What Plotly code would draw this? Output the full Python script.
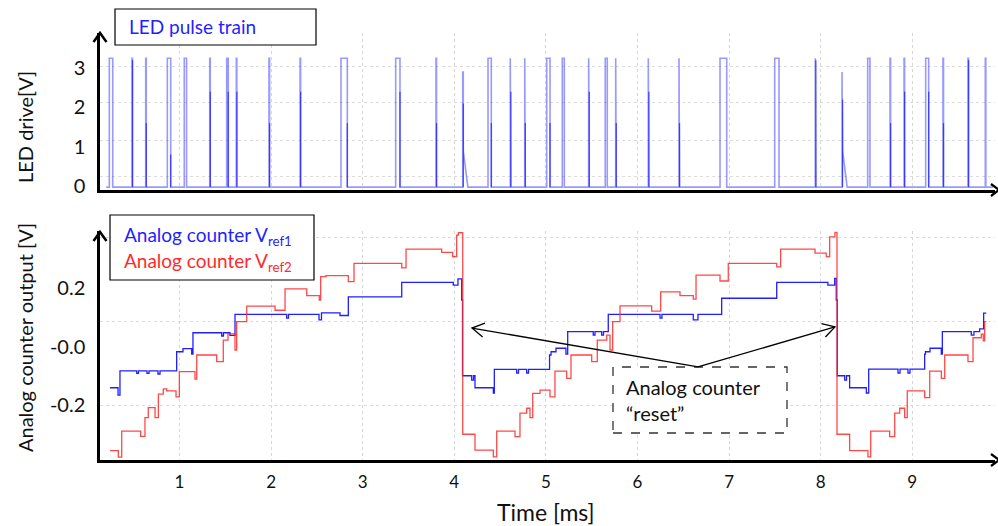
import plotly.graph_objects as go

# ---------------- LED drive pulse train (time in ms, drive in V) ----------------
led_pulse_start = [0.234, 0.481, 0.631, 0.867, 1.052, 1.330, 1.515, 1.620, 1.977, 2.316,
                   2.763, 3.360, 3.800, 4.092, 4.368, 4.611, 4.769, 5.009, 5.179, 5.467,
                   5.648, 5.762, 6.118, 6.453, 6.901, 7.498, 7.941, 8.233, 8.513, 8.757,
                   8.910, 9.146, 9.335, 9.608, 9.797]
led_pulse_width = [0.037, 0.006, 0.006, 0.037, 0.025, 0.006, 0.017, 0.006, 0.006, 0.006,
                   0.069, 0.047, 0.006, 0.006, 0.036, 0.006, 0.006, 0.036, 0.022, 0.006,
                   0.022, 0.006, 0.006, 0.006, 0.073, 0.047, 0.006, 0.006, 0.025, 0.006,
                   0.006, 0.033, 0.006, 0.006, 0.006]
led_pulse_peak = [3.25, 3.25, 3.25, 3.25, 3.25, 3.25, 3.25, 3.25, 3.25, 3.25,
                  3.25, 3.25, 3.25, 2.9, 3.25, 3.25, 3.25, 3.25, 3.25, 3.25,
                  3.25, 3.25, 3.25, 3.25, 3.25, 3.25, 3.25, 2.9, 3.25, 3.25,
                  3.25, 3.25, 3.25, 3.25, 3.25]
# level of the sampled point on each falling edge (0 = clean edge)
led_edge_level = [0.0, 3.2, 1.6, 0.8, 0.0, 2.4, 2.4, 2.4, 1.6, 2.4,
                  1.6, 2.4, 1.6, 2.1, 1.6, 2.4, 1.6, 1.6, 0.0, 2.4,
                  0.0, 1.6, 2.4, 1.6, 0.0, 0.0, 3.2, 2.2, 0.0, 1.6,
                  2.4, 2.4, 1.6, 3.2, 0.0]
# slow decay left after the short over-driven spikes
led_tail_level = [0, 0, 0, 0, 0, 0, 0, 0, 0, 0,
                  0, 0, 0, 0.9, 0, 0, 0, 0, 0, 0,
                  0, 0, 0, 0, 0, 0, 0, 0.9, 0, 0,
                  0, 0, 0, 0, 0]
led_tail_time = 0.05
led_low = -0.03
led_span = [0.20, 9.88]

# ---------------- analog counter outputs (time in ms, output in V) ----------------
vref1_t = [0.241, 0.329, 0.350, 0.533, 0.552, 0.645, 0.667, 0.765, 0.787, 0.969,
           1.038, 1.133, 1.147, 1.461, 1.480, 1.551, 1.606, 2.170, 2.190, 2.523,
           2.550, 2.752, 2.843, 3.426, 3.989, 4.040, 4.081, 4.090, 4.190, 4.210,
           4.226, 4.426, 4.437, 4.681, 4.701, 4.790, 4.810, 5.040, 5.056, 5.110,
           5.219, 5.238, 5.517, 5.536, 5.609, 5.629, 5.681, 6.246, 6.267, 6.609,
           6.660, 6.919, 7.520, 8.079, 8.153, 8.170, 8.181, 8.262, 8.282, 8.316,
           8.498, 8.524, 8.844, 8.866, 8.953, 8.975, 9.135, 9.144, 9.193, 9.317,
           9.328, 9.644, 9.673, 9.735, 9.779, 9.808]
vref1_v = [-0.141, -0.166, -0.083, -0.092, -0.083, -0.092, -0.083, -0.094, -0.083, -0.018,
           -0.007, -0.026, 0.047, 0.036, 0.047, 0.038, 0.110, 0.097, 0.110, 0.091,
           0.115, 0.106, 0.170, 0.219, 0.210, 0.231, 0.159, -0.100, -0.115, -0.100,
           -0.141, -0.159, -0.078, -0.091, -0.078, -0.091, -0.078, -0.029, -0.018, -0.006,
           -0.026, 0.051, 0.039, 0.051, 0.039, 0.051, 0.110, 0.097, 0.110, 0.091,
           0.110, 0.165, 0.219, 0.210, 0.233, 0.159, -0.100, -0.115, -0.100, -0.141,
           -0.159, -0.077, -0.091, -0.077, -0.091, -0.077, -0.026, -0.018, -0.006, -0.026,
           0.051, 0.039, 0.051, 0.060, 0.114, 0.114]

vref2_t = [0.241, 0.332, 0.369, 0.576, 0.623, 0.659, 0.733, 0.769, 0.823, 0.860,
           0.962, 0.998, 1.169, 1.188, 1.406, 1.478, 1.529, 1.606, 1.624, 1.734,
           2.043, 2.152, 2.389, 2.526, 2.541, 2.599, 2.843, 2.905, 3.426, 3.473,
           3.862, 3.982, 4.026, 4.044, 4.092, 4.226, 4.426, 4.463, 4.663, 4.717,
           4.790, 4.826, 4.856, 4.936, 5.045, 5.099, 5.227, 5.274, 5.500, 5.561,
           5.664, 5.700, 5.729, 5.809, 6.155, 6.253, 6.464, 6.609, 6.639, 6.901,
           6.991, 7.520, 7.563, 7.938, 8.061, 8.098, 8.156, 8.178, 8.316, 8.516,
           8.546, 8.753, 8.808, 8.863, 8.917, 8.945, 9.135, 9.190, 9.317, 9.354,
           9.608, 9.663, 9.753, 9.775, 9.790, 9.808]
vref2_v = [-0.356, -0.378, -0.289, -0.307, -0.243, -0.209, -0.243, -0.163, -0.145, -0.152,
           -0.172, -0.086, -0.111, -0.029, -0.052, 0.022, 0.043, -0.012, 0.085, 0.138,
           0.124, 0.197, 0.174, 0.159, 0.239, 0.242, 0.222, 0.284, 0.269, 0.333,
           0.322, 0.307, 0.381, 0.389, -0.300, -0.354, -0.377, -0.289, -0.308, -0.228,
           -0.211, -0.243, -0.160, -0.149, -0.172, -0.084, -0.109, -0.029, -0.052, 0.022,
           0.039, -0.012, 0.085, 0.139, 0.121, 0.187, 0.174, 0.162, 0.244, 0.224,
           0.284, 0.272, 0.333, 0.319, 0.307, 0.375, 0.390, -0.300, -0.356, -0.377,
           -0.289, -0.308, -0.228, -0.211, -0.243, -0.152, -0.175, -0.084, -0.109, -0.029,
           -0.052, 0.030, 0.042, 0.019, 0.085, 0.085]

# callout pointing at the two counter resets
reset_tip_t = [4.193, 8.156]
reset_tip_v = [0.063, 0.067]
callout_t, callout_v = 6.660, -0.070

x_ticks = [1, 2, 3, 4, 5, 6, 7, 8, 9]
led_ticks = [0, 1, 2, 3]
out_ticks = [-0.2, 0.0, 0.2]
out_ticktext = ["-0.2", "-0.0", "0.2"]
# the oscilloscope's own graticule lines
led_scope_grid = [0.229, 1.170, 2.112, 3.028]
out_scope_grid = [-0.200, 0.084, 0.371]

# ---------------- layout frame ----------------
W, H = 998, 526
ML, MR, MT, MB = 100, 3, 33, 66
PW, PH = W - ML - MR, H - MT - MB
t_range = [0.132, 9.903]
led_range = [-0.102, 3.893]
out_range = [-0.388, 0.3949]
led_dom = [(H - MB - 190) / PH, 1.0]
out_dom = [0.0, (H - MB - 231) / PH]

FONT = "Lato, 'Open Sans', sans-serif"
BLUE, RED = "#1f1fff", "#ff2a2a"


def px_x(t):
    return ML + (t - t_range[0]) / (t_range[1] - t_range[0]) * PW


def px_y_out(v):
    top, bot = H - MB - out_dom[1] * PH, H - MB
    return bot - (v - out_range[0]) / (out_range[1] - out_range[0]) * (bot - top)


def paper(px, py):
    return (px - ML) / PW, (H - MB - py) / PH


def chevron(tip, back, size, spread):
    (tx, ty), (bx, by) = tip, back
    dx, dy = tx - bx, ty - by
    n = (dx * dx + dy * dy) ** 0.5
    ux, uy = dx / n, dy / n
    px_, py_ = -uy, ux
    a = (tx - ux * size + px_ * spread, ty - uy * size + py_ * spread)
    b = (tx - ux * size - px_ * spread, ty - uy * size - py_ * spread)
    pts = [paper(*a), paper(tx, ty), paper(*b)]
    return "M{:.5f},{:.5f} L{:.5f},{:.5f} L{:.5f},{:.5f}".format(*pts[0], *pts[1], *pts[2])


# ---------------- build LED waveform ----------------
led_t, led_v = [led_span[0]], [led_low]
edge_t, edge_v = [], []
for t0, w, pk, edge, tail in zip(led_pulse_start, led_pulse_width, led_pulse_peak,
                                 led_edge_level, led_tail_level):
    t1 = t0 + w
    led_t += [t0, t0, t1, t1]
    led_v += [led_low, pk, pk, tail if tail else led_low]
    if tail:
        led_t.append(t1 + led_tail_time)
        led_v.append(led_low)
    if edge:
        edge_t += [t1, t1, None]
        edge_v += [led_low, edge, None]
led_t.append(led_span[1])
led_v.append(led_low)

fig = go.Figure()
fig.add_trace(go.Scatter(x=led_t, y=led_v, mode="lines", xaxis="x", yaxis="y",
                         line=dict(color="rgba(70,70,255,0.55)", width=1.6),
                         showlegend=False, hoverinfo="skip"))
fig.add_trace(go.Scatter(x=edge_t, y=edge_v, mode="lines", xaxis="x", yaxis="y",
                         line=dict(color="rgba(40,40,255,0.85)", width=1.2),
                         showlegend=False, hoverinfo="skip"))
fig.add_trace(go.Scatter(x=vref1_t, y=vref1_v, mode="lines", line_shape="hv",
                         xaxis="x2", yaxis="y2", name="Analog counter Vref1",
                         line=dict(color=BLUE, width=1.3), showlegend=False))
fig.add_trace(go.Scatter(x=vref2_t, y=vref2_v, mode="lines", line_shape="hv",
                         xaxis="x2", yaxis="y2", name="Analog counter Vref2",
                         line=dict(color=RED, width=1.3), opacity=0.85, showlegend=False))

axis_common = dict(showline=True, linecolor="black", linewidth=2.5, zeroline=False,
                   ticks="outside", ticklen=8, tickcolor="rgba(0,0,0,0)", mirror=False)
grid_x = dict(showgrid=True, gridcolor="#d6d6d6", griddash="dot", gridwidth=1)

shapes = []
annotations = []

# axis arrowheads
for top_px, axis_px in [(33, 190), (232, 460)]:
    shapes.append(dict(type="path", xref="paper", yref="paper",
                       path=chevron((ML, top_px), (ML, top_px + 20), 9, 6.5),
                       line=dict(color="black", width=2.5)))
    shapes.append(dict(type="path", xref="paper", yref="paper",
                       path=chevron((W + 1, axis_px), (W - 20, axis_px), 8, 6),
                       line=dict(color="black", width=2.2)))

# legend frames
for (x0, y0, x1, y1) in [(115, 9, 316, 45), (110, 215, 314, 280)]:
    (a0, b0), (a1, b1) = paper(x0, y1), paper(x1, y0)
    shapes.append(dict(type="rect", xref="paper", yref="paper", x0=a0, y0=b0, x1=a1, y1=b1,
                       line=dict(color="black", width=1.2), fillcolor="white", layer="above"))

# reset callout: dashed frame and two arrows
(a0, b0), (a1, b1) = paper(613, 433), paper(787, 367)
shapes.append(dict(type="rect", xref="paper", yref="paper", x0=a0, y0=b0, x1=a1, y1=b1,
                   line=dict(color="#333333", width=1.3, dash="dash"), fillcolor="white",
                   layer="above"))
src = (px_x(callout_t), px_y_out(callout_v))
for tt, vv in zip(reset_tip_t, reset_tip_v):
    tip = (px_x(tt), px_y_out(vv))
    (s0, s1), (e0, e1) = paper(*src), paper(*tip)
    shapes.append(dict(type="line", xref="paper", yref="paper", x0=s0, y0=s1, x1=e0, y1=e1,
                       line=dict(color="black", width=1.3)))
    shapes.append(dict(type="path", xref="paper", yref="paper",
                       path=chevron(tip, src, 12, 7), line=dict(color="black", width=1.3)))

# text boxes
ax_, ay_ = paper(127, 27)
annotations.append(dict(xref="paper", yref="paper", x=ax_, y=ay_, xanchor="left", yanchor="middle",
                        text="LED pulse train", showarrow=False,
                        font=dict(family=FONT, size=19, color=BLUE)))
ax_, ay_ = paper(122, 236)
annotations.append(dict(xref="paper", yref="paper", x=ax_, y=ay_, xanchor="left", yanchor="middle",
                        text="Analog counter V<sub>ref1</sub>", showarrow=False,
                        font=dict(family=FONT, size=19, color=BLUE)))
ax_, ay_ = paper(122, 262)
annotations.append(dict(xref="paper", yref="paper", x=ax_, y=ay_, xanchor="left", yanchor="middle",
                        text="Analog counter V<sub>ref2</sub>", showarrow=False,
                        font=dict(family=FONT, size=19, color=RED)))
ax_, ay_ = paper(624, 400)
annotations.append(dict(xref="paper", yref="paper", x=ax_, y=ay_, xanchor="left", yanchor="middle",
                        align="left", text="Analog counter<br>\u201creset\u201d", showarrow=False,
                        font=dict(family=FONT, size=20, color="#111111")))

# axis titles
ax_, ay_ = paper(25, 127)
annotations.append(dict(xref="paper", yref="paper", x=ax_, y=ay_, textangle=-90,
                        xanchor="center", yanchor="middle", text="LED drive[V]", showarrow=False,
                        font=dict(family=FONT, size=20, color="#111111")))
ax_, ay_ = paper(25, 338)
annotations.append(dict(xref="paper", yref="paper", x=ax_, y=ay_, textangle=-90,
                        xanchor="center", yanchor="middle", text="Analog counter output [V]",
                        showarrow=False, font=dict(family=FONT, size=20, color="#111111")))
ax_, ay_ = paper(546, 512)
annotations.append(dict(xref="paper", yref="paper", x=ax_, y=ay_, xanchor="center",
                        yanchor="middle", text="Time [ms]", showarrow=False,
                        font=dict(family=FONT, size=23, color="#111111")))

fig.update_layout(
    width=W, height=H, margin=dict(l=ML, r=MR, t=MT, b=MB),
    paper_bgcolor="white", plot_bgcolor="white",
    font=dict(family=FONT, color="#111111"),
    xaxis=dict(domain=[0, 1], range=t_range, anchor="y", showticklabels=False,
               tickvals=x_ticks, **grid_x, **axis_common),
    yaxis=dict(domain=led_dom, range=led_range, anchor="x", tickvals=led_ticks,
               tickfont=dict(family=FONT, size=20, color="#111111"), showgrid=False,
               minor=dict(tickvals=led_scope_grid, showgrid=True, gridcolor="#dcdcdc",
                          griddash="dot", gridwidth=1, ticks=""),
               **axis_common),
    xaxis2=dict(domain=[0, 1], range=t_range, anchor="y2", tickvals=x_ticks,
                ticklen=5,
                tickfont=dict(family=FONT, size=17, color="#111111"), **grid_x,
                **{k: v for k, v in axis_common.items() if k != "ticklen"}),
    yaxis2=dict(domain=out_dom, range=out_range, anchor="x2", tickvals=out_ticks,
                ticktext=out_ticktext, tickfont=dict(family=FONT, size=20, color="#111111"),
                showgrid=False,
                minor=dict(tickvals=out_scope_grid, showgrid=True, gridcolor="#dcdcdc",
                           griddash="dot", gridwidth=1, ticks=""),
                **axis_common),
    shapes=shapes, annotations=annotations,
)

fig.write_html("out.html")
